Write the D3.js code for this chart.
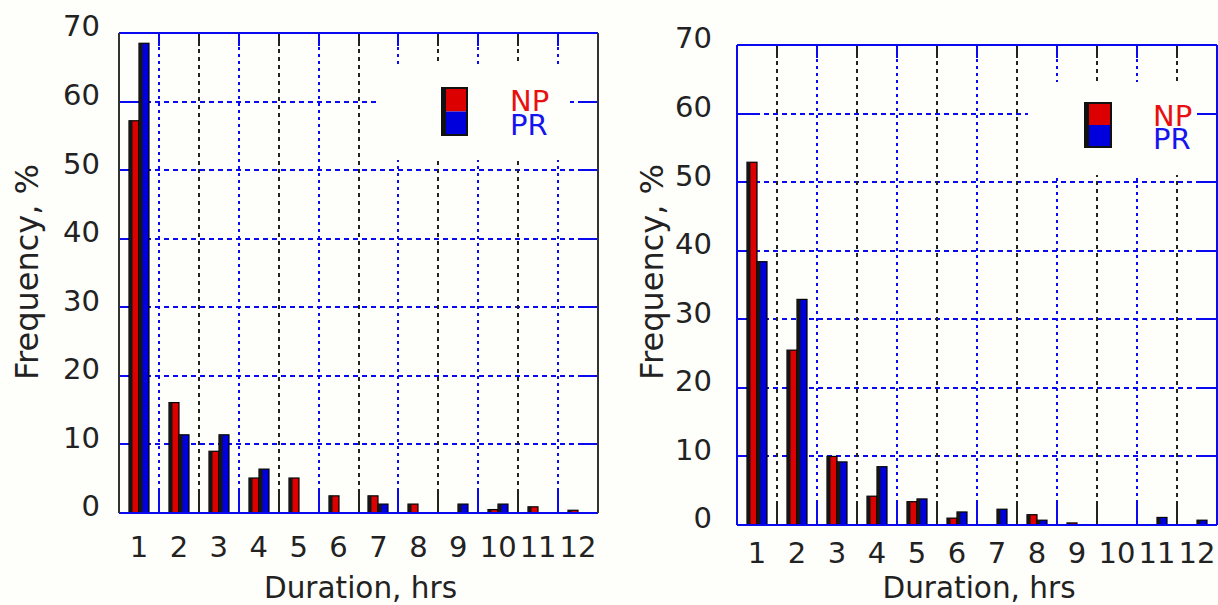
<!DOCTYPE html>
<html>
<head>
<meta charset="utf-8">
<script src="https://cdn.jsdelivr.net/npm/d3@7"></script>
<style>
body { margin: 0; background: #fefefb; }
svg { display: block; font-family: "DejaVu Sans", sans-serif; }
line { shape-rendering: crispEdges; }
</style>
</head>
<body>
<svg id="chart" width="1218" height="605"></svg>
<script>
// categories: duration in hours
const durations = ["1","2","3","4","5","6","7","8","9","10","11","12"];
const seriesNames = ["NP","PR"];
const yTicks = [0,10,20,30,40,50,60,70];

// left panel, frequency in %
const leftNP = [57.2, 16.1, 9.0, 5.1, 5.1, 2.5, 2.5, 1.3, 0, 0.5, 0.9, 0.4];
const leftPR = [68.5, 11.4, 11.4, 6.4, 0, 0, 1.3, 0, 1.3, 1.3, 0, 0];

// right panel, frequency in %
const rightNP = [52.9, 25.5, 10.0, 4.2, 3.4, 1.0, 0, 1.5, 0.3, 0, 0, 0];
const rightPR = [38.4, 32.9, 9.2, 8.5, 3.8, 1.9, 2.3, 0.7, 0, 0, 1.1, 0.7];

const BG = "#fefefb";
const BLUE = "#0a0af0";
const RED = "#dd0000";
const BARBLUE = "#0000dd";

const panels = [
  { x: 119, y: 33, w: 479, h: 480, np: leftNP, pr: leftPR,
    sideColor: "#333", firstGrid: BLUE, secondGrid: "#222",
    blank: { x: 380, y: 65, w: 190, h: 95 },
    swatch: { x: 442, y: 88, w: 25, h: 47 }, legX: 510, legY1: 111, legY2: 135,
    yLabRight: 100, titleX: 38, xLabPad: 23 },
  { x: 737, y: 45, w: 480, h: 480, np: rightNP, pr: rightPR,
    sideColor: BLUE, firstGrid: "#222", secondGrid: BLUE,
    blank: { x: 1028, y: 82, w: 184, h: 93 },
    swatch: { x: 1085, y: 103, w: 26, h: 44 }, legX: 1153, legY1: 126, legY2: 149,
    yLabRight: 712, titleX: 663, xLabPad: 17 }
];

const svg = d3.select("#chart");
svg.append("rect").attr("width", 1218).attr("height", 605).attr("fill", BG);

panels.forEach(function(p) {
  const g = svg.append("g");
  const x = d3.scaleBand().domain(durations).range([p.x, p.x + p.w]);
  const xs = d3.scaleBand().domain(seriesNames).range([x.bandwidth() / 4, x.bandwidth() * 3 / 4]);
  const y = d3.scaleLinear().domain([0, 70]).range([p.y + p.h, p.y]);
  const bottom = y(0), top = y(70);
  const ry = v => Math.round(y(v));
  const rx = d => Math.round(x(d));

  const inner = yTicks.filter(v => v > 0 && v < 70);
  const bounds = durations.slice(1);
  const gridCol = (i) => i % 2 === 0 ? p.firstGrid : p.secondGrid;

  // grid
  g.selectAll(".hgrid").data(inner).enter().append("line")
    .attr("x1", p.x).attr("x2", p.x + p.w)
    .attr("y1", ry).attr("y2", ry)
    .attr("stroke", BLUE).attr("stroke-width", 2).attr("stroke-dasharray", "5,4");
  g.selectAll(".vgrid").data(bounds).enter().append("line")
    .attr("x1", rx).attr("x2", rx)
    .attr("y1", top).attr("y2", bottom)
    .attr("stroke", (d, i) => gridCol(i)).attr("stroke-width", 2)
    .attr("stroke-dasharray", (d, i) => gridCol(i) === BLUE ? "3,4" : "4,4");

  // legend area is left clear
  g.append("rect").attr("x", p.blank.x).attr("y", p.blank.y)
    .attr("width", p.blank.w).attr("height", p.blank.h).attr("fill", BG);

  // inner ticks
  g.selectAll(".ytl").data(inner).enter().append("line")
    .attr("x1", p.x).attr("x2", p.x + 20).attr("y1", ry).attr("y2", ry)
    .attr("stroke", BLUE).attr("stroke-width", 2);
  g.selectAll(".ytr").data(inner).enter().append("line")
    .attr("x1", p.x + p.w - 20).attr("x2", p.x + p.w).attr("y1", ry).attr("y2", ry)
    .attr("stroke", BLUE).attr("stroke-width", 2);
  g.selectAll(".xtt").data(bounds).enter().append("line")
    .attr("x1", rx).attr("x2", rx).attr("y1", top).attr("y2", top + 13)
    .attr("stroke", (d, i) => gridCol(i)).attr("stroke-width", 2);
  g.selectAll(".xtb").data(bounds).enter().append("line")
    .attr("x1", rx).attr("x2", rx).attr("y1", bottom - 22).attr("y2", bottom)
    .attr("stroke", (d, i) => gridCol(i)).attr("stroke-width", 2);

  // bars
  const rows = [];
  durations.forEach(function(d, i) {
    rows.push({ cat: d, s: "NP", v: p.np[i], fill: RED });
    rows.push({ cat: d, s: "PR", v: p.pr[i], fill: BARBLUE });
  });
  const bars = g.selectAll(".bar").data(rows.filter(r => r.v > 0)).enter().append("g");
  bars.append("rect")
    .attr("x", r => Math.round(x(r.cat) + xs(r.s))).attr("y", r => y(r.v))
    .attr("width", xs.bandwidth()).attr("height", r => bottom - y(r.v))
    .attr("fill", r => r.fill).attr("stroke", "#000").attr("stroke-width", 1.2);
  bars.append("rect")
    .attr("x", r => Math.round(x(r.cat) + xs(r.s))).attr("y", r => y(r.v))
    .attr("width", 3.5).attr("height", r => bottom - y(r.v))
    .attr("fill", "#151515");

  // frame
  g.append("line").attr("x1", p.x).attr("x2", p.x + p.w).attr("y1", top).attr("y2", top)
    .attr("stroke", BLUE).attr("stroke-width", 2);
  g.append("line").attr("x1", p.x).attr("x2", p.x + p.w).attr("y1", bottom).attr("y2", bottom)
    .attr("stroke", BLUE).attr("stroke-width", 2);
  g.append("line").attr("x1", p.x).attr("x2", p.x).attr("y1", top).attr("y2", bottom)
    .attr("stroke", p.sideColor).attr("stroke-width", 2);
  g.append("line").attr("x1", p.x + p.w).attr("x2", p.x + p.w).attr("y1", top).attr("y2", bottom)
    .attr("stroke", p.sideColor).attr("stroke-width", 2);

  // axes labels
  const ya = g.append("g").attr("transform", "translate(" + p.x + ",0)")
    .call(d3.axisLeft(y).tickValues(yTicks).tickSize(0).tickPadding(p.x - p.yLabRight));
  ya.select(".domain").remove();
  ya.selectAll("text").attr("font-size", 29).attr("font-family", "DejaVu Sans")
    .attr("fill", "#222").attr("dy", "0.1em");

  const xa = g.append("g").attr("transform", "translate(0," + bottom + ")")
    .call(d3.axisBottom(x).tickSize(0).tickPadding(p.xLabPad));
  xa.select(".domain").remove();
  xa.selectAll("text").attr("font-size", 29).attr("font-family", "DejaVu Sans").attr("fill", "#222");

  // legend
  const sw = p.swatch;
  g.append("rect").attr("x", sw.x).attr("y", sw.y).attr("width", sw.w).attr("height", sw.h / 2)
    .attr("fill", RED);
  g.append("rect").attr("x", sw.x).attr("y", sw.y + sw.h / 2).attr("width", sw.w).attr("height", sw.h / 2)
    .attr("fill", BARBLUE);
  g.append("rect").attr("x", sw.x).attr("y", sw.y).attr("width", 4).attr("height", sw.h).attr("fill", "#111");
  g.append("rect").attr("x", sw.x).attr("y", sw.y).attr("width", sw.w).attr("height", sw.h)
    .attr("fill", "none").attr("stroke", "#111").attr("stroke-width", 2);
  g.append("text").attr("x", p.legX).attr("y", p.legY1).attr("font-size", 29).attr("fill", "#e81010").text("NP");
  g.append("text").attr("x", p.legX).attr("y", p.legY2).attr("font-size", 29).attr("fill", "#1515ee").text("PR");

  // titles
  g.append("text").attr("x", p.x + p.w / 2 + 2).attr("y", 598).attr("text-anchor", "middle")
    .attr("font-size", 29.5).attr("fill", "#222").text("Duration, hrs");
  g.append("text").attr("transform", "translate(" + p.titleX + ",272) rotate(-90)")
    .attr("text-anchor", "middle").attr("font-size", 32).attr("fill", "#222").text("Frequency, %");
});
</script>
</body>
</html>
